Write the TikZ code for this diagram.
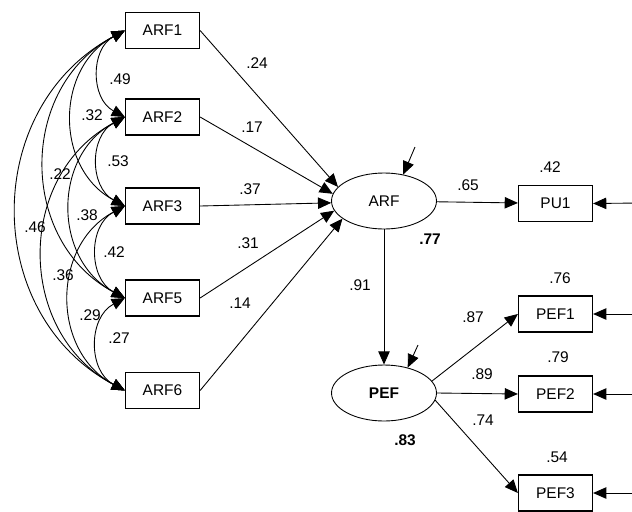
\documentclass[tikz,border=0pt]{standalone}
\usepackage{fontspec}
\setmainfont{Liberation Sans}
\usetikzlibrary{arrows.meta,positioning,shapes.geometric}

\begin{document}
\begin{tikzpicture}[x=0.02cm,y=-0.02cm,>={Triangle[length=7.5pt,width=6.5pt]},
    line width=0.5pt,font=\fontsize{8.8}{10.5}\selectfont,
    obs/.style={draw,line width=0.7pt,minimum width=1.48cm,minimum height=0.72cm,inner sep=0pt},
    lat/.style={draw,ellipse,minimum width=2.1cm,minimum height=1.12cm,inner sep=0pt},
    cov/.style={<->,bend right=62,looseness=1.16},
    coef/.style={inner sep=0pt}]
        \useasboundingbox (0,0) rectangle (632,511);
        % observed predictors
        \node[obs] (arf1) at (162.5,30.5) {ARF1};
        \node[obs] (arf2) at (162.5,117) {ARF2};
        \node[obs] (arf3) at (162.5,206) {ARF3};
        \node[obs] (arf5) at (162.5,298) {ARF5};
        \node[obs] (arf6) at (162.5,390.5) {ARF6};
        % latent variables and indicators
        \node[lat] (arf) at (384,201) {ARF};
        \node[lat] (pef) at (384,393) {\bfseries PEF};
        \node[obs] (pu1) at (555.5,203.5) {PU1};
        \node[obs] (pef1) at (555.5,314) {PEF1};
        \node[obs] (pef2) at (555.5,394) {PEF2};
        \node[obs] (pef3) at (555.5,493) {PEF3};
        % error terms
        \coordinate (earf) at (415,147);
        \coordinate (epef) at (418,345);
        \coordinate (epu1) at (640,203);
        \coordinate (epef1) at (640,314);
        \coordinate (epef2) at (640,394);
        \coordinate (epef3) at (640,493);
        \draw[->] (earf) -- (arf.54);
        \draw[->] (epef) -- (pef.47);
        \foreach \t in {pu1,pef1,pef2,pef3}
          \draw[->] (e\t) -- (\t.east);
        % regression paths
        \foreach \s/\a in {arf1/163,arf2/172,arf3/182,arf5/191,arf6/203}
          \draw[->] (\s.east) -- (arf.\a);
        \draw[->] (arf) -- (pu1);
        \draw[->] (arf.south) -- (pef.north);
        \draw[->] (pef.14) -- (pef1.west);
        \draw[->] (pef.east) -- (pef2.west);
        \draw[->] (pef.-8) -- (pef3.west);
        % correlations
        \draw[cov] (arf1.west) to (arf2.west);
        \draw[cov] (arf2.west) to (arf3.west);
        \draw[cov] (arf3.west) to (arf5.west);
        \draw[cov] (arf5.west) to (arf6.west);
        \draw[cov] (arf1.west) to (arf3.west);
        \draw[cov] (arf2.west) to (arf5.west);
        \draw[cov] (arf3.west) to (arf6.west);
        \draw[cov] (arf1.west) to (arf5.west);
        \draw[cov] (arf2.west) to (arf6.west);
        \draw[cov] (arf1.west) to (arf6.west);
        % estimates
        \node[coef] (c1) at (257,63) {.24};
        \node[coef] (c2) at (252,127) {.17};
        \node[coef] (c3) at (250,189) {.37};
        \node[coef] (c5) at (248,243) {.31};
        \node[coef] (c6) at (240,303) {.14};
        \node[coef] (cpu) at (468,185) {.65};
        \node[coef] (rpu) at (550,167) {.42};
        \node[coef] (rarf) at (430,239) {\bfseries .77};
        \node[coef] (cpef) at (360,285) {.91};
        \node[coef] (rp1) at (560,278) {.76};
        \node[coef] (cp1) at (473,317) {.87};
        \node[coef] (rp2) at (558,357) {.79};
        \node[coef] (cp2) at (482,374) {.89};
        \node[coef] (cp3) at (483,420) {.74};
        \node[coef] (rp3) at (557,457) {.54};
        \node[coef] (rpef) at (405,440) {\bfseries .83};
        \node[coef] (r12) at (120,79) {.49};
        \node[coef] (r13) at (92,115) {.32};
        \node[coef] (r23) at (118,161) {.53};
        \node[coef] (r15) at (60,174) {.22};
        \node[coef] (r25) at (87,215) {.38};
        \node[coef] (r16) at (35,227) {.46};
        \node[coef] (r35) at (114,252) {.42};
        \node[coef] (r26) at (63,275) {.36};
        \node[coef] (r36) at (90,315) {.29};
        \node[coef] (r56) at (119,338) {.27};
      \end{tikzpicture}
\end{document}
